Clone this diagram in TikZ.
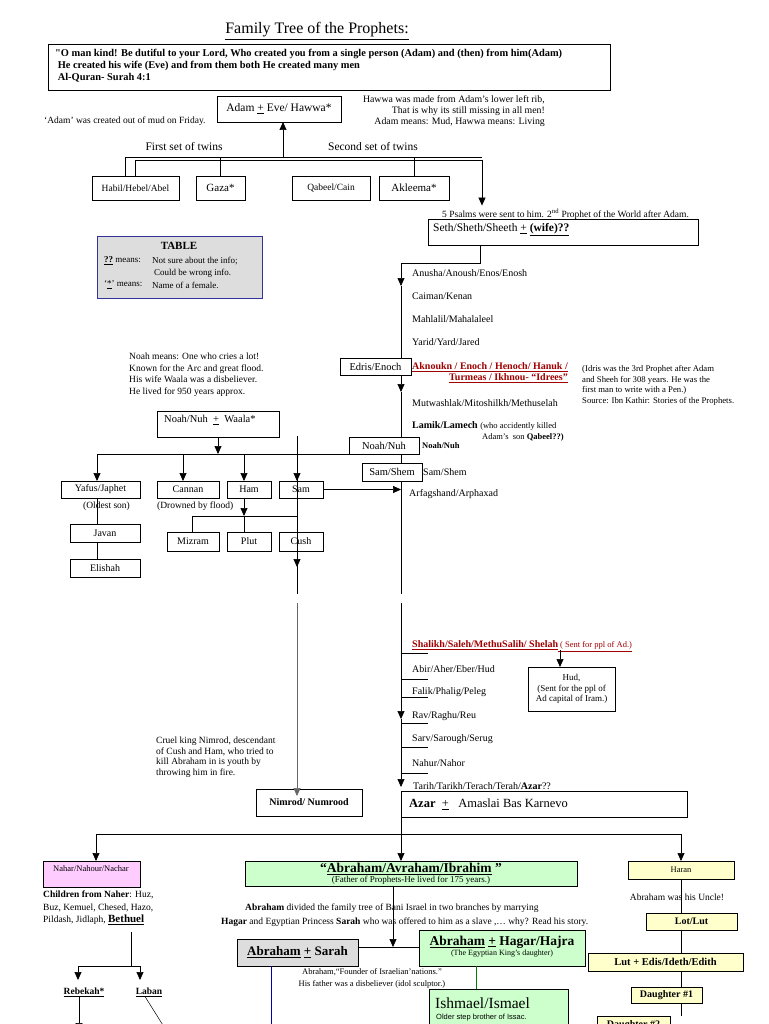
\documentclass[tikz,border=0pt]{standalone}
\usepackage{fontspec}
\setmainfont{Liberation Serif}
\newfontfamily\sansf{Liberation Sans}
\usetikzlibrary{arrows.meta}
\definecolor{dred}{HTML}{A00000}
\definecolor{lgreen}{HTML}{CCFFCC}
\definecolor{lyellow}{HTML}{FFFFCC}
\definecolor{lpink}{HTML}{FFCCFF}
\definecolor{lgray}{HTML}{DDDDDD}
\definecolor{navy}{HTML}{333399}
\newcommand\fz[2]{\fontsize{#1}{#2}\selectfont}
\begin{document}
\begin{tikzpicture}[x=1pt,y=-1pt,
 box/.style={draw, line width=0.7pt, anchor=north west, inner sep=0pt, outer sep=0pt, align=center},
 txt/.style={inner sep=0pt, anchor=west, font=\fz{10}{12}},
 arr/.style={line width=0.7pt, -{Triangle[length=8pt,width=7pt]}},
 ln/.style={line width=0.7pt},
 tick/.style={line width=0.6pt}]
\useasboundingbox (0,0) rectangle (768,1024);
\fill[white] (0,0) rectangle (768,1024);

% title and quote
\node[inner sep=0pt, font=\fz{16}{18}] (title) at (317,31) {\underline{Family Tree of the Prophets:}};
\node[box, line width=0.9pt, minimum width=562pt, minimum height=46pt] (quote) at (48,44) {};
\node[anchor=north west, inner sep=0pt, align=left, font=\bfseries\fz{10.4}{12}] (qtext) at (55,49) {\textquotedbl O man kind! Be dutiful to your Lord, Who created you from a single person (Adam) and (then) from him(Adam)\\ \ He created\ his wife (Eve)\ and from them both He created many men\\ \ Al-Quran- Surah 4:1};

% Adam
\node[box, minimum width=124pt, minimum height=26pt, font=\fz{11.5}{13}] (adam) at (217,96) {Adam \underline{+} Eve/ Hawwa*};
\node[txt, font=\fz{9.5}{11}] (adamnote) at (44,121) {‘Adam’ was created out of mud on Friday.};
\node[anchor=north east, inner sep=0pt, align=right, font=\fz{9.8}{11}] (hawwanote) at (545,95) {Hawwa was made from Adam’s lower left rib,\\That is why its still missing in all men!\\Adam means: Mud, Hawwa means: Living};
\node[font=\fz{11.5}{13}, inner sep=0pt] (twins1) at (184,147) {First set of twins};
\node[font=\fz{11.5}{13}, inner sep=0pt] (twins2) at (373,147) {Second set of twins};

\node[box, minimum width=87pt, minimum height=24pt, font=\fz{9.5}{11}] (habil) at (92,176) {Habil/Hebel/Abel};
\node[box, minimum width=49pt, minimum height=24pt, font=\fz{11}{13}] (gaza) at (196,176) {Gaza*};
\node[box, minimum width=78pt, minimum height=24pt, font=\fz{9.5}{11}] (qabeel) at (292,176) {Qabeel/Cain};
\node[box, minimum width=70pt, minimum height=24pt, font=\fz{11}{13}] (akleema) at (379,176) {Akleema*};

\coordinate (t1) at (125,157); \coordinate (t2) at (482,157);
\coordinate (t3) at (135,160); \coordinate (t4) at (482,160);
\coordinate (tadam) at (283,157);
\draw[ln] (t1 |- habil.north) -- (t1) -- (t2);
\draw[ln] (t3 |- habil.north) -- (t3) -- (t4);
\draw[arr] (tadam) -- (tadam |- adam.south);
\draw[ln] (gaza.north) -- (gaza.north |- t1);
\draw[ln] (akleema.north) -- (akleema.north |- t1);

% TABLE
\node[box, draw=navy, line width=1pt, fill=lgray, minimum width=165pt, minimum height=62pt] (table) at (97,236) {};
\node[inner sep=0pt, font=\bfseries\fz{11}{13}] (tabletitle) at (179,246) {TABLE};
\node[txt, font=\fz{9}{11}] (tab1) at (104,261) {\textbf{\underline{??}} means:};
\node[txt, font=\fz{9}{11}] (tab1b) at (152,261) {Not sure about the info;};
\node[txt, font=\fz{9}{11}] (tab2) at (154,273) {Could be wrong info.};
\node[txt, font=\fz{9}{11}] (tab3) at (104,285) {‘\underline{*}’ means:};
\node[txt, font=\fz{9}{11}] (tab3b) at (152,285) {Name of a female.};

% Seth
\node[txt, font=\fz{9.5}{11}] (psalms) at (442,214) {5 Psalms were sent to him. 2\textsuperscript{nd} Prophet of the World after Adam.};
\draw[arr, shorten >=3pt] (t4) -- (t4 |- psalms.north);
\node[box, minimum width=270pt, minimum height=26pt] (seth) at (428,219) {};
\node[txt, font=\fz{11.5}{13}] (sethtxt) at (433,230) {Seth/Sheth/Sheeth \underline{+} \textbf{\underline{(wife)??}}};

% main chain line
\coordinate (c1) at (480,263); \coordinate (c2) at (401,263);
\coordinate (a1) at (401,286); \coordinate (a2) at (401,392);
\coordinate (gap1) at (401,594); \coordinate (gap2) at (401,603);
\coordinate (a3) at (401,719); \coordinate (a4) at (401,787);
\draw[ln] (seth.south -| c1) -- (c1) -- (c2);
\draw[arr] (c2) -- (a1);
\draw[arr] (a1) -- (a2);
\draw[ln] (a2) -- (gap1);
\draw[arr] (gap2) -- (a3);
\draw[arr] (a3) -- (a4);

\node[txt] (anusha) at (412,273) {Anusha/Anoush/Enos/Enosh};
\node[txt] (caiman) at (412,296) {Caiman/Kenan};
\node[txt] (mahlalil) at (412,319) {Mahlalil/Mahalaleel};
\node[txt] (yarid) at (412,342) {Yarid/Yard/Jared};
\node[box, fill=white, minimum width=71pt, minimum height=17pt, font=\fz{10.5}{12}] (edris) at (340,358) {Edris/Enoch};
\node[txt, text=dred, font=\bfseries\fz{10}{12}] (akn1) at (412,367) {\underline{Aknoukn / Enoch / Henoch/ Hanuk /}};
\node[inner sep=0pt, anchor=east, text=dred, font=\bfseries\fz{10}{12}] (akn2) at (akn1.east |- 0,378) {\underline{Turmeas / Ikhnou- ``Idrees''}};
\node[anchor=north west, inner sep=0pt, align=left, font=\fz{8.7}{10.7}] (idris) at (582,365) {(Idris was the 3rd Prophet after Adam\\and Sheeh for 308 years. He was\ the\\first man to write with a Pen.)\\Source: Ibn Kathir: Stories of the Prophets.};
\node[txt] (mutwashlak) at (412,403) {Mutwashlak/Mitoshilkh/Methuselah};
\node[txt] (lamik) at (412,426) {\textbf{Lamik/Lamech} {\fz{8.5}{10}(who accidently killed}};
\node[txt, font=\fz{8.5}{10}] (lamik2) at (482,437) {Adam’s\ \ son \textbf{Qabeel??)}};
\node[box, fill=white, minimum width=70pt, minimum height=17pt, font=\fz{10.5}{12}] (noahnuh) at (349,437) {Noah/Nuh};
\node[txt, font=\bfseries\fz{8.5}{10}] (noahtxt) at (422,446) {Noah/Nuh};
\node[box, fill=white, minimum width=60pt, minimum height=18pt, font=\fz{10.5}{12}] (samshem) at (362,463) {Sam/Shem};
\node[txt] (samtxt) at (423,472) {Sam/Shem};
\node[txt] (arfag) at (409,494) {Arfagshand/Arphaxad};

% Noah family
\node[anchor=north west, inner sep=0pt, align=left, font=\fz{9.5}{11.5}] (noahnote) at (129,353) {Noah means: One who cries a lot!\\Known for the Arc and great flood.\\His wife Waala was a disbeliever.\\He lived for 950 years approx.};
\node[box, minimum width=122pt, minimum height=26pt] (noahw) at (157,411) {};
\node[txt, font=\fz{10.5}{12}] (noahwt) at (164,420) {Noah/Nuh\ \ \underline{+}\ \ Waala*};

\coordinate (s1) at (97,454); \coordinate (s2) at (183,454);
\coordinate (s3) at (244,454); \coordinate (s4) at (297,454);
\coordinate (v1) at (297,436); \coordinate (v2) at (297,594);
\coordinate (v3) at (297,603);
\draw[ln] (s1) -- (noahnuh.south west);
\draw[arr] (noahw.south) -- (noahw.south |- s1);
\draw[ln] (v1) -- (v2);

\node[box, minimum width=79pt, minimum height=17pt] (yafus) at (61,481) {Yafus/Japhet};
\node[box, minimum width=62pt, minimum height=17pt] (cannan) at (157,481) {Cannan};
\node[box, minimum width=44pt, minimum height=17pt] (ham) at (227,481) {Ham};
\node[box, minimum width=44pt, minimum height=17pt] (sam) at (279,481) {Sam};
\draw[arr] (s1) -- (s1 |- yafus.north);
\draw[arr] (s2) -- (s2 |- cannan.north);
\draw[arr] (s3) -- (s3 |- ham.north);
\draw[arr] (s4) -- (s4 |- sam.north);
\draw[arr] (sam.east) -- (sam.east -| c2);
\node[txt, font=\fz{9.5}{11}] (oldest) at (83,506) {(Oldest son)};
\node[txt, font=\fz{9.5}{11}] (drowned) at (157,506) {(Drowned by flood)};

\node[box, minimum width=70pt, minimum height=18pt] (javan) at (70,524) {Javan};
\node[box, minimum width=70pt, minimum height=18pt] (elishah) at (70,559) {Elishah};
\draw[ln] (s1 |- yafus.south) -- (s1 |- javan.north);
\draw[ln] (s1 |- javan.south) -- (s1 |- elishah.north);

\coordinate (hm) at (244,516); \coordinate (mz) at (192,516); \coordinate (hr) at (297,516);
\node[box, minimum width=52pt, minimum height=19pt] (mizram) at (167,532) {Mizram};
\node[box, minimum width=44pt, minimum height=19pt] (plut) at (227,532) {Plut};
\node[box, minimum width=44pt, minimum height=19pt] (cush) at (279,532) {Cush};
\draw[arr] (ham.south -| hm) -- (hm);
\draw[ln] (mz) -- (hr);
\draw[ln] (mz) -- (mz |- mizram.north);
\draw[ln] (hm) -- (hm |- plut.north);
\draw[arr] (cush.south -| s4) -- (297,567);

% Nimrod
\node[anchor=north west, inner sep=0pt, align=left, font=\fz{9.5}{10.5}] (cruel) at (156,737) {Cruel king Nimrod, descendant\\of Cush and Ham, who tried to\\kill Abraham in is youth by\\throwing him in fire.};
\node[box, minimum width=106pt, minimum height=27pt, font=\bfseries\fz{10}{12}] (nimrod) at (256,789) {Nimrod/ Numrood};
\draw[arr, draw=black!60, shorten >=-7pt] (v3) -- (v3 |- nimrod.north);

% Shem line names
\node[txt, text=dred, font=\fz{10}{12}] (shalikh) at (412,646) {\underline{\textbf{Shalikh/Saleh/MethuSalih/ Shelah}}\underline{\fz{8.5}{10} ( Sent for ppl of Ad.)}};
\coordinate (sh1) at (560,650);
\node[box, minimum width=87pt, minimum height=44pt, font=\fz{9}{10.8}] (hud) at (528,667) {Hud,\\(Sent for the ppl of\\Ad capital of Iram.)};
\draw[arr] (sh1) -- (sh1 |- hud.north);
\node[txt] (abir) at (412,669) {Abir/Aher/Eber/Hud};
\node[txt] (falik) at (412,692) {Falik/Phalig/Peleg};
\node[txt] (rav) at (412,716) {Rav/Raghu/Reu};
\node[txt] (sarv) at (412,739) {Sarv/Sarough/Serug};
\node[txt] (nahur) at (412,763) {Nahur/Nahor};
\node[txt] (tarih) at (413,786) {Tarih/Tarikh/Terach/Terah/\textbf{Azar}??};
\foreach \yy in {653,679,697,723,747,773} \draw[tick] (401,\yy) -- (428,\yy);

\node[box, minimum width=286pt, minimum height=26pt] (azar) at (401,791) {};
\node[txt, font=\fz{12.5}{14}] (azartxt) at (409,804) {\textbf{Azar}\enspace\underline{+}\enspace\ Amaslai Bas Karnevo};

% next generation
\coordinate (g1) at (96,834); \coordinate (g3) at (681,834);
\draw[ln] (g1) -- (g3);

\node[box, fill=lpink, minimum width=97pt, minimum height=26pt] (nahor) at (43,861) {};
\node[inner sep=0pt, font=\fz{8.5}{10}] (nahortxt) at (91,869) {Nahar/Nahour/Nachar};
\draw[arr] (g1) -- (g1 |- nahor.north);
\node[anchor=north west, inner sep=0pt, align=left, font=\fz{9.5}{12.5}] (children) at (43,891) {\textbf{Children from Naher}: Huz,\\Buz, Kemuel, Chesed, Hazo,\\Pildash, Jidlaph, {\fz{11}{12.5}\textbf{\underline{Bethuel}}}};
\coordinate (b1) at (131,932); \coordinate (b2) at (131,966);
\coordinate (b3) at (78,966); \coordinate (b4) at (140,966);
\node[inner sep=0pt, font=\bfseries\fz{9.5}{11}] (reb) at (84,992) {\underline{Rebekah*}};
\node[inner sep=0pt, font=\bfseries\fz{9.5}{11}] (laban) at (149,992) {\underline{Laban}};
\draw[ln] (b1) -- (b2);
\draw[ln] (b3) -- (b4);
\draw[arr] (b3) -- (78,980);
\draw[arr] (b4) -- (140,980);
\draw[arr] (reb.south -| 79,0) -- (79,1031);
\draw[line width=0.5pt] (laban.south -| 145,0) -- (166,1030);

\node[box, fill=lgreen, minimum width=332pt, minimum height=25pt] (abr) at (245,861) {};
\node[inner sep=0pt, font=\bfseries\fz{13.5}{15}] (abrt1) at (411,869) {“\underline{Abraham/Avraham/Ibrahim} ”};
\node[inner sep=0pt, font=\fz{9}{10}] (abrt2) at (411,880) {(Father of Prophets-He lived for 175 years.)};
\draw[arr] (azar.south west) -- (azar.south west |- abr.north);

\node[txt, font=\fz{9.5}{11}] (div1) at (245,908) {\textbf{Abraham} divided the family tree of Bani Israel in two branches by marrying};
\node[txt, font=\fz{9.5}{11}] (div2) at (221,922) {\textbf{Hagar} and Egyptian Princess \textbf{Sarah} who was offered to him as a slave ,… why? Read his story.};

\node[box, fill=lgray, minimum width=121pt, minimum height=27pt, font=\bfseries\fz{13}{15}] (sarah) at (237,939) {\underline{Abraham} \underline{+} Sarah};
\node[box, fill=lgreen, minimum width=166pt, minimum height=36pt] (hagar) at (419,930) {};
\node[inner sep=0pt, font=\bfseries\fz{13.5}{15}] (hagt1) at (502,942) {\underline{Abraham} \underline{+} Hagar/Hajra};
\node[inner sep=0pt, font=\fz{8}{10}] (hagt2) at (502,954) {(The Egyptian King’s daughter)};
\coordinate (ab2) at (393,947);
\draw[arr] (abr.south -| ab2) -- (ab2);
\draw[ln] (sarah.east |- ab2) -- (hagar.west |- ab2);
\draw[blue!70!black, line width=0.7pt] (sarah.south -| 271,0) -- (271,1026);
\node[anchor=north, inner sep=0pt, align=center, font=\fz{8.5}{12.5}] (founder) at (372,968) {Abraham,“Founder of Israelian’nations.”\\His father was a disbeliever (idol sculptor.)};

\node[box, fill=lgreen, minimum width=139pt, minimum height=45pt] (ish) at (429,989) {};
\draw[green!50!black, line width=0.6pt] (hagar.south -| 476,0) -- (ish.north -| 476,0);
\node[txt, font=\fz{15.5}{17}] (isht1) at (435,1003) {Ishmael/Ismael};
\node[txt, font=\sansf\fz{7.5}{9}] (isht2) at (436,1018) {Older step brother of Issac.};

% Haran column
\coordinate (hx1) at (681,879); \coordinate (hx2) at (681,1016);
\draw[line width=0.6pt] (hx1) -- (hx2);
\node[box, fill=lyellow, minimum width=106pt, minimum height=18pt, font=\fz{8.5}{10}] (haran) at (628,861) {Haran};
\draw[arr] (g3) -- (g3 |- haran.north);
\node[inner sep=0pt, font=\fz{9.5}{11}] (uncle) at (677,897) {Abraham was his Uncle!};
\node[box, fill=lyellow, minimum width=91pt, minimum height=17pt, font=\bfseries\fz{10}{12}] (lot) at (646,913) {Lot/Lut};
\node[box, fill=lyellow, minimum width=155pt, minimum height=18pt, font=\bfseries\fz{10.5}{12}] (lutedis) at (588,953) {Lut + Edis/Ideth/Edith};
\node[box, fill=lyellow, minimum width=71pt, minimum height=16pt, font=\bfseries\fz{10}{12}] (dau1) at (631,987) {Daughter \#1};
\node[box, fill=lyellow, minimum width=73pt, minimum height=18pt, font=\bfseries\fz{10}{12}] (dau2) at (597,1016) {Daughter \#2};
\end{tikzpicture}
\end{document}
